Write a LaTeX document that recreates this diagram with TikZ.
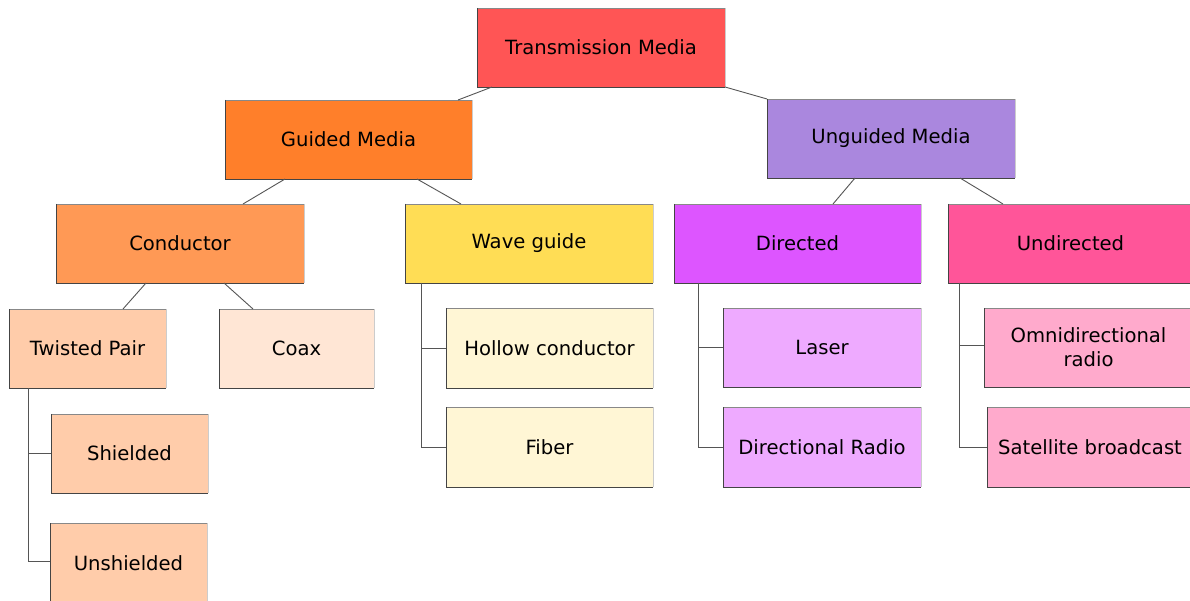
\documentclass[tikz,border=0pt]{standalone}
\usepackage{fontspec}
\setmainfont{DejaVu Sans}
\definecolor{cTM}{HTML}{FF5555}
\definecolor{cGM}{HTML}{FF7F2A}
\definecolor{cUM}{HTML}{AA87DE}
\definecolor{cCo}{HTML}{FF9955}
\definecolor{cWG}{HTML}{FFDD55}
\definecolor{cDi}{HTML}{DD55FF}
\definecolor{cUn}{HTML}{FF5599}
\definecolor{cTP}{HTML}{FFCCAA}
\definecolor{cCx}{HTML}{FFE6D5}
\definecolor{cHo}{HTML}{FFF6D5}
\definecolor{cLa}{HTML}{EEAAFF}
\definecolor{cOm}{HTML}{FFAACC}
\definecolor{edgeDark}{HTML}{444444}
\definecolor{edgeMid}{HTML}{888888}
\definecolor{edgeLight}{HTML}{CCCCCC}
\definecolor{linkc}{HTML}{555555}
\tikzset{
  box/.style={inner sep=0pt, outer sep=0pt, align=center,
    font=\fontsize{19.6}{24}\selectfont},
  link/.style={draw=linkc, line width=0.9pt},
}
\newcommand{\mkbox}[7]{% name, x1, y1, x2, y2, color, text
  \pgfmathsetmacro{\bw}{#4-#2}\pgfmathsetmacro{\bh}{#5-#3}%
  \node[box, fill=#6, minimum width=\bw pt, minimum height=\bh pt]
    (#1) at ({(#2+#4)/2},{(#3+#5)/2}) {#7};
  \draw[edgeLight, line width=0.9pt] (#1.south east) -- (#1.north east);
  \draw[edgeMid, line width=0.9pt] (#1.north east) -- (#1.north west);
  \draw[edgeDark, line width=0.9pt] (#1.north west) -- (#1.south west) -- (#1.south east);
}
\begin{document}
\begin{tikzpicture}[x=1pt,y=-1pt]
\useasboundingbox (0,0) rectangle (1190,601);
\fill[white] (0,0) rectangle (1190,601);
\mkbox{tm}{477}{8}{725}{87}{cTM}{Transmission Media}
\mkbox{gm}{225}{100}{472}{179}{cGM}{Guided Media}
\mkbox{um}{767}{99}{1015}{178}{cUM}{Unguided Media}
\mkbox{co}{56}{204}{304}{283}{cCo}{Conductor}
\mkbox{wg}{405}{204}{653}{283}{cWG}{Wave guide}
\mkbox{di}{674}{204}{921}{283}{cDi}{Directed}
\mkbox{un}{948}{204}{1193}{283}{cUn}{Undirected}
\mkbox{tp}{9}{309}{166}{388}{cTP}{Twisted Pair}
\mkbox{cx}{219}{309}{374}{388}{cCx}{Coax}
\mkbox{sh}{51}{414}{208}{493}{cTP}{Shielded}
\mkbox{us}{50}{523}{207}{604}{cTP}{Unshielded}
\mkbox{ho}{446}{308}{653}{388}{cHo}{Hollow conductor}
\mkbox{fi}{446}{407}{653}{487}{cHo}{Fiber}
\mkbox{la}{723}{308}{921}{387}{cLa}{Laser}
\mkbox{dr}{723}{407}{921}{487}{cLa}{Directional Radio}
\mkbox{om}{984}{308}{1193}{387}{cOm}{Omnidirectional\\radio}
\mkbox{sa}{987}{407}{1193}{487}{cOm}{Satellite broadcast}
% connectors
\draw[link] ([xshift=15pt]tm.south west) -- ([xshift=233pt]gm.north west);
\draw[link] (tm.south east) -- (um.north west);
\draw[link] ([xshift=60pt]gm.south west) -- ([xshift=187pt]co.north west);
\draw[link] ([xshift=192pt]gm.south west) -- ([xshift=56pt]wg.north west);
\draw[link] ([xshift=88pt]um.south west) -- ([xshift=159pt]di.north west);
\draw[link] ([xshift=193pt]um.south west) -- ([xshift=55pt]un.north west);
\draw[link] ([xshift=90pt]co.south west) -- ([xshift=114pt]tp.north west);
\draw[link] ([xshift=168pt]co.south west) -- ([xshift=34pt]cx.north west);
\draw[link] ([xshift=19pt]tp.south west) |- (sh.west);
\draw[link] ([xshift=19pt]tp.south west) |- ([yshift=2pt]us.west);
\draw[link] ([xshift=16pt]wg.south west) |- (ho.west);
\draw[link] ([xshift=16pt]wg.south west) |- (fi.west);
\draw[link] ([xshift=24pt]di.south west) |- (la.west);
\draw[link] ([xshift=24pt]di.south west) |- (dr.west);
\draw[link] ([xshift=11pt]un.south west) |- ([yshift=2pt]om.west);
\draw[link] ([xshift=11pt]un.south west) |- (sa.west);
\end{tikzpicture}
\end{document}
